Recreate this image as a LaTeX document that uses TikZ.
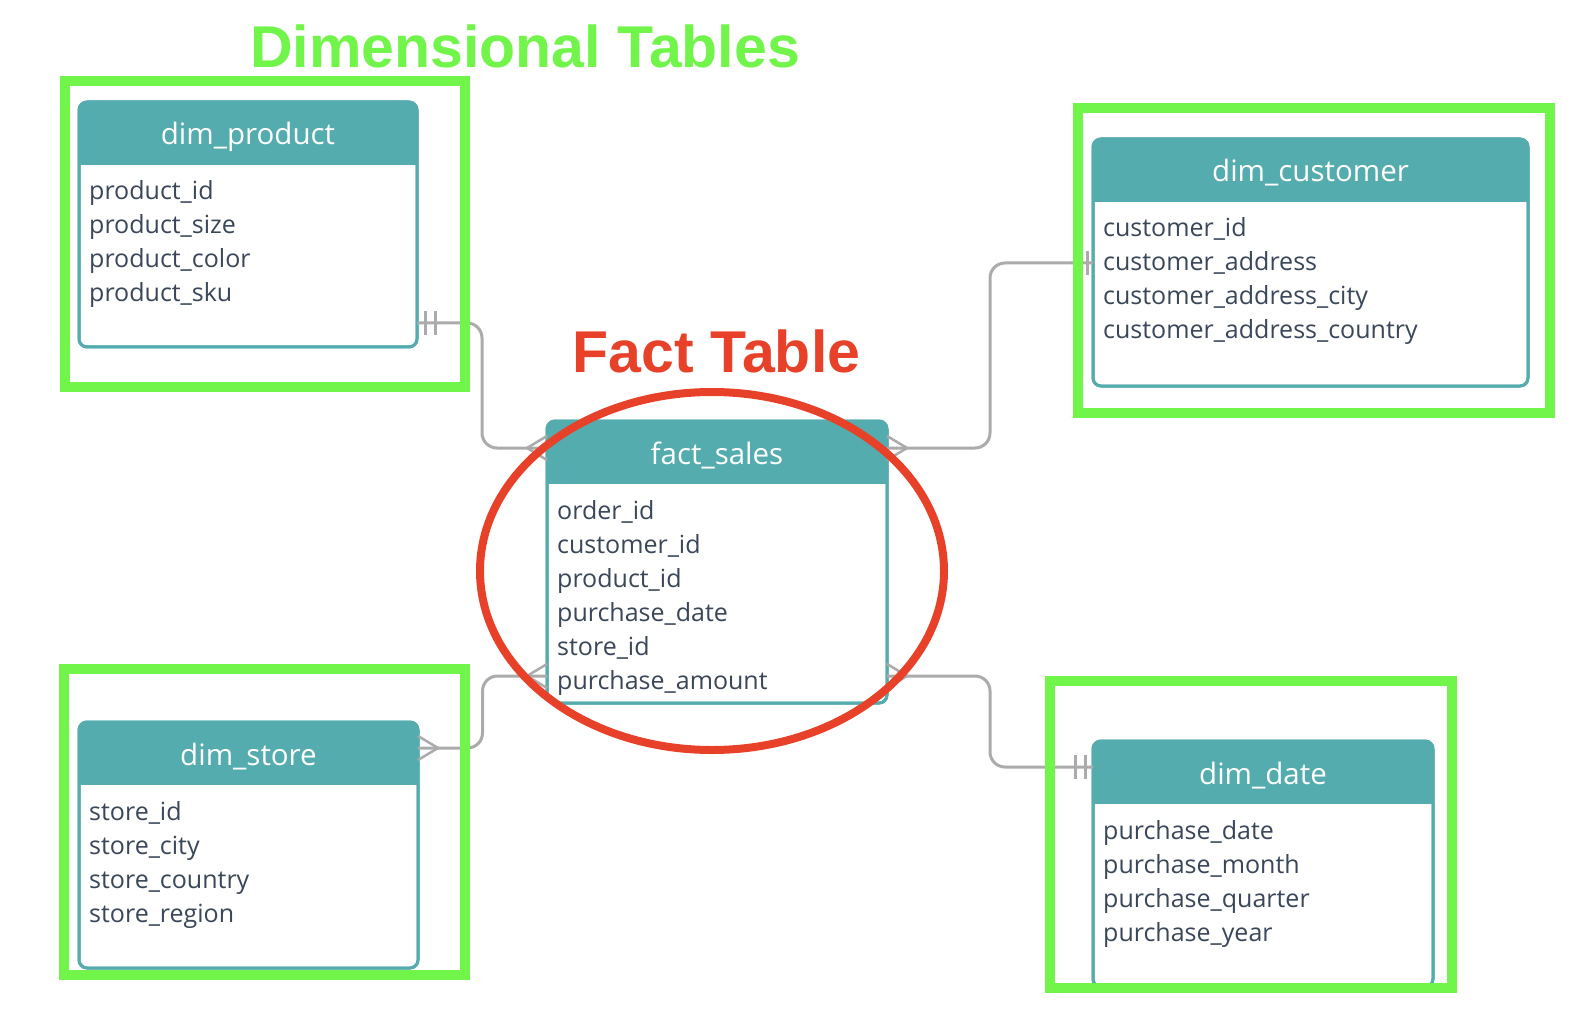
\documentclass[tikz,border=0pt]{standalone}
\usepackage{fontspec}
\setmainfont{Open Sans}
\newfontfamily\bannerfont{Liberation Sans}
\usetikzlibrary{calc,positioning}

\definecolor{tealhead}{HTML}{55ACAE}
\definecolor{rowtext}{HTML}{3A4659}
\definecolor{linegray}{HTML}{ABABAB}
\definecolor{dimgreen}{HTML}{72F54A}
\definecolor{factred}{HTML}{E8412A}

% name, position, width, height, title, rows
\newcommand{\erdtable}[6]{%
  \node[tbl, minimum width=#3, minimum height=#4] (#1) at (#2) {};
  \begin{scope}
    \clip[rounded corners=8pt] (#1.north west) rectangle (#1.south east);
    \fill[tealhead] (#1.north west) rectangle ([yshift=-63pt]#1.north east);
  \end{scope}
  \draw[tealhead, line width=3pt, rounded corners=8pt] (#1.north west) rectangle (#1.south east);
  \node[tbltitle] (#1-title) at ([yshift=-43pt]#1.north) {#5};
  \foreach \r [count=\i] in {#6} {
    \pgfmathsetmacro{\dy}{98+34*(\i-1)}
    \node[tblrow] (#1-row\i) at ([xshift=10pt,yshift=-\dy pt]#1.north west) {\r};
  }
}

\begin{document}
\begin{tikzpicture}[x=1pt,y=-1pt,
  tbl/.style={draw=tealhead, fill=white, line width=3pt, rounded corners=8pt,
    anchor=north west, inner sep=0pt, outer sep=0pt},
  tbltitle/.style={anchor=base, inner sep=0pt, text=white,
    font=\fontsize{29.5}{34}\selectfont},
  tblrow/.style={anchor=base west, inner sep=0pt, text=rowtext,
    font=\fontsize{25}{29}\selectfont},
  conn/.style={draw=linegray, line width=3pt, rounded corners=15pt},
  crow/.pic={\draw[linegray, line width=2.5pt] (0,-12) -- (20,0) -- (0,12);},
  onebar/.pic={\draw[linegray, line width=3pt] (6,-12) -- (6,12);},
  twobar/.pic={\draw[linegray, line width=3pt] (8,-12) -- (8,12) (18,-12) -- (18,12);},
  dimbox/.style={draw=dimgreen, line width=10pt},
  banner/.style={anchor=base, inner sep=0pt,
    font=\bannerfont\bfseries\fontsize{59}{65}\selectfont}
]
  \useasboundingbox (0,0) rectangle (1572,1024);

  % tables
  \erdtable{prod}{79,102}{338}{245}{dim\_product}%
    {product\_id, product\_size, product\_color, product\_sku}
  \erdtable{cust}{1093,139}{435}{247}{dim\_customer}%
    {customer\_id, customer\_address, customer\_address\_city, customer\_address\_country}
  \erdtable{fact}{547,421}{340}{282}{fact\_sales}%
    {order\_id, customer\_id, product\_id, purchase\_date, store\_id, purchase\_amount}
  \erdtable{store}{79,722}{339}{246}{dim\_store}%
    {store\_id, store\_city, store\_country, store\_region}
  \erdtable{date}{1093,741}{340}{246}{dim\_date}%
    {purchase\_date, purchase\_month, purchase\_quarter, purchase\_year}

  % connector ends
  \coordinate (prod-r) at ([yshift=-221pt]prod.north east);
  \coordinate (cust-l) at ([yshift=-124pt]cust.north west);
  \coordinate (store-r) at ([yshift=-26pt]store.north east);
  \coordinate (date-l) at ([yshift=-26pt]date.north west);
  \coordinate (fact-lt) at ([yshift=-27pt]fact.north west);
  \coordinate (fact-rt) at ([yshift=-27pt]fact.north east);
  \coordinate (fact-lb) at ([yshift=-255pt]fact.north west);
  \coordinate (fact-rb) at ([yshift=-255pt]fact.north east);

  \draw[conn] (prod-r) -| ($(prod-r)!.5!(fact-lt)$) |- (fact-lt);
  \draw[conn] (fact-rt) -| ($(fact-rt)!.5!(cust-l)$) |- (cust-l);
  \draw[conn] (fact-lb) -| ($(fact-lb)!.5!(store-r)$) |- (store-r);
  \draw[conn] (fact-rb) -| ($(fact-rb)!.5!(date-l)$) |- (date-l);

  \pic at (prod-r) {twobar};
  \pic[rotate=180] at (cust-l) {onebar};
  \pic at (store-r) {crow};
  \pic[rotate=180] at (date-l) {twobar};
  \pic[rotate=180] at (fact-lt) {crow};
  \pic at (fact-rt) {crow};
  \pic[rotate=180] at (fact-lb) {crow};
  \pic at (fact-rb) {crow};

  % highlights
  \draw[dimbox] (64.5,81) rectangle (464.5,387);
  \draw[dimbox] (1077.5,108) rectangle (1550,413);
  \draw[dimbox] (63.5,669) rectangle (464.5,975);
  \draw[dimbox] (1050,681) rectangle (1452,988);
  \draw[factred, line width=8pt] (712,571) ellipse [x radius=232, y radius=179];

  \node[banner, text=dimgreen] (dimlabel) at (525,68) {Dimensional Tables};
  \node[banner, text=factred] (factlabel) at (716.5,372) {Fact Table};
\end{tikzpicture}
\end{document}
